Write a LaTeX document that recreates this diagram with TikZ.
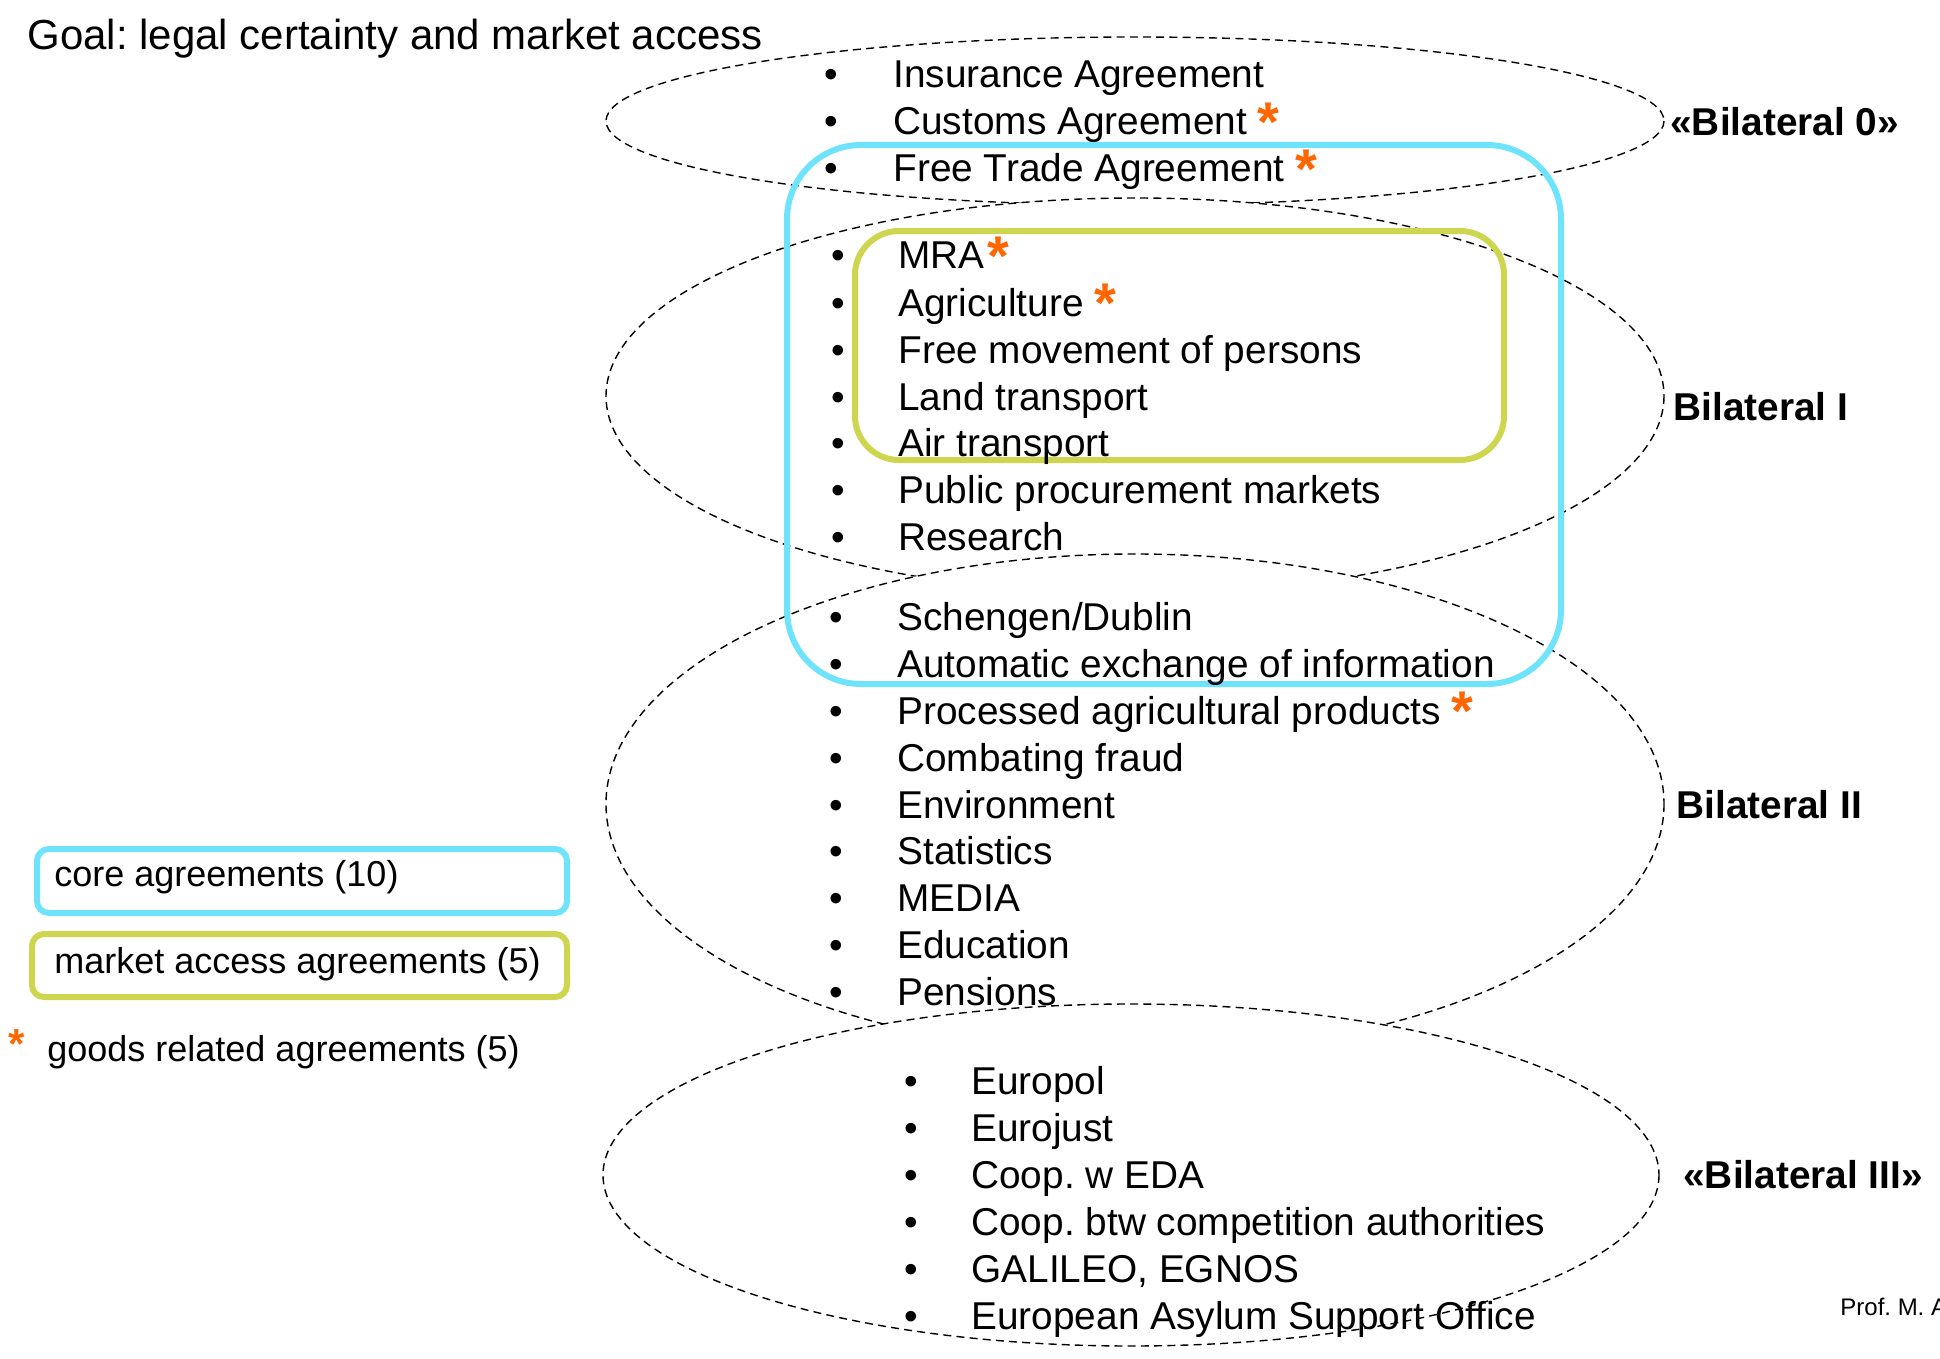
\documentclass[tikz,border=0pt]{standalone}
\usepackage{fontspec}
\setmainfont{Liberation Sans}
\usetikzlibrary{positioning}
\definecolor{coreblue}{RGB}{110,227,251}
\definecolor{marketgreen}{RGB}{206,214,80}
\definecolor{goodsorange}{RGB}{255,102,0}
\newcommand{\goodsmark}{\textcolor{goodsorange}{\fontsize{28}{28}\selectfont\bfseries\raisebox{-3.2pt}{*}}}
\frenchspacing
\tikzset{
  item/.style={anchor=base west, inner sep=0pt, font=\fontsize{19.4}{23}\selectfont},
  dot/.style={anchor=base, inner sep=0pt, font=\fontsize{19.4}{23}\selectfont},
  legend/.style={anchor=base west, inner sep=0pt, font=\fontsize{18}{22}\selectfont},
  grouplabel/.style={anchor=base west, inner sep=0pt, font=\fontsize{19.4}{23}\selectfont\bfseries},
  group/.style={draw, dash pattern=on 4pt off 2.6pt, line width=0.7pt},
  core/.style={draw=coreblue, line width=3pt},
  market/.style={draw=marketgreen, line width=3pt},
}
\begin{document}
\begin{tikzpicture}[x=0.5pt,y=-0.5pt]
  \useasboundingbox (0,0) rectangle (1940,1359);

  \node[anchor=base west, inner sep=0pt, font=\fontsize{21}{25}\selectfont] (goal) at (27,50)
    {Goal: legal certainty and market access};

  % the four packages, each one laid over the one before
  \draw[group] (1135,121) ellipse [x radius=529, y radius=84];
  \draw[group, fill=white] (1135,396) ellipse [x radius=529, y radius=198];
  \draw[group, fill=white] (1135,804) ellipse [x radius=529, y radius=250];
  \draw[group, fill=white] (1131,1175) ellipse [x radius=528, y radius=171];

  % core and market access frames
  \draw[core, rounded corners=37pt] (787,145) rectangle (1561,684);
  \draw[market, rounded corners=22pt] (855,231) rectangle (1504,460);

  % «Bilateral 0»
  \foreach \y / \txt [count=\i] in {
    88/Insurance Agreement,
    135/Customs Agreement \goodsmark,
    182/Free Trade Agreement \goodsmark
  }
  {
    \node[dot] (d0-\i) at (831,\y) {•};
    \node[item] (b0-\i) at (893,\y) {\txt};
  }

  % Bilateral I
  \foreach \y / \txt [count=\i] in {
    269/MRA\kern1.5pt\goodsmark,
    316/Agriculture \goodsmark,
    363/Free movement of persons,
    410/Land transport,
    456/Air transport,
    503/Public procurement markets,
    550/Research
  }
  {
    \node[dot] (d1-\i) at (838,\y) {•};
    \node[item] (b1-\i) at (898,\y) {\txt};
  }

  % Bilateral II
  \foreach \y / \txt [count=\i] in {
    630/{Schengen/Dublin},
    677/Automatic exchange of information,
    724/Processed agricultural products \goodsmark,
    771/Combating fraud,
    818/Environment,
    864/Statistics,
    911/MEDIA,
    958/Education,
    1005/Pensions
  }
  {
    \node[dot] (d2-\i) at (836,\y) {•};
    \node[item] (b2-\i) at (897,\y) {\txt};
  }

  % «Bilateral III»
  \foreach \y / \txt [count=\i] in {
    1094/Europol,
    1141/Eurojust,
    1188/Coop. w EDA,
    1235/Coop. btw competition authorities,
    1282/{GALILEO, EGNOS},
    1329/European Asylum Support Office
  }
  {
    \node[dot] (d3-\i) at (911,\y) {•};
    \node[item] (b3-\i) at (971,\y) {\txt};
  }

  \node[grouplabel] (bil0) at (1670,136) {«Bilateral 0»};
  \node[grouplabel] (bil1) at (1673,420) {Bilateral I};
  \node[grouplabel] (bil2) at (1676,818) {Bilateral II};
  \node[grouplabel] (bil3) at (1683,1188) {«Bilateral III»};

  % legend
  \draw[core, rounded corners=6pt] (37,849) rectangle (567,913);
  \draw[market, rounded corners=6pt] (32,934) rectangle (567,997);
  \node[legend] (lcore) at (54,886) {core agreements (10)};
  \node[legend] (lmarket) at (54,973) {market access agreements (5)};
  \node[legend, anchor=base, font=\fontsize{21}{22}\selectfont\bfseries] (lstar) at (17,1058) {\textcolor{goodsorange}{*}};
  \node[legend] (lgoods) at (47,1061) {goods related agreements (5)};

  \node[anchor=base west, inner sep=0pt, font=\fontsize{12}{14}\selectfont] (prof) at (1840,1315) {Prof. M. A};
\end{tikzpicture}
\end{document}
